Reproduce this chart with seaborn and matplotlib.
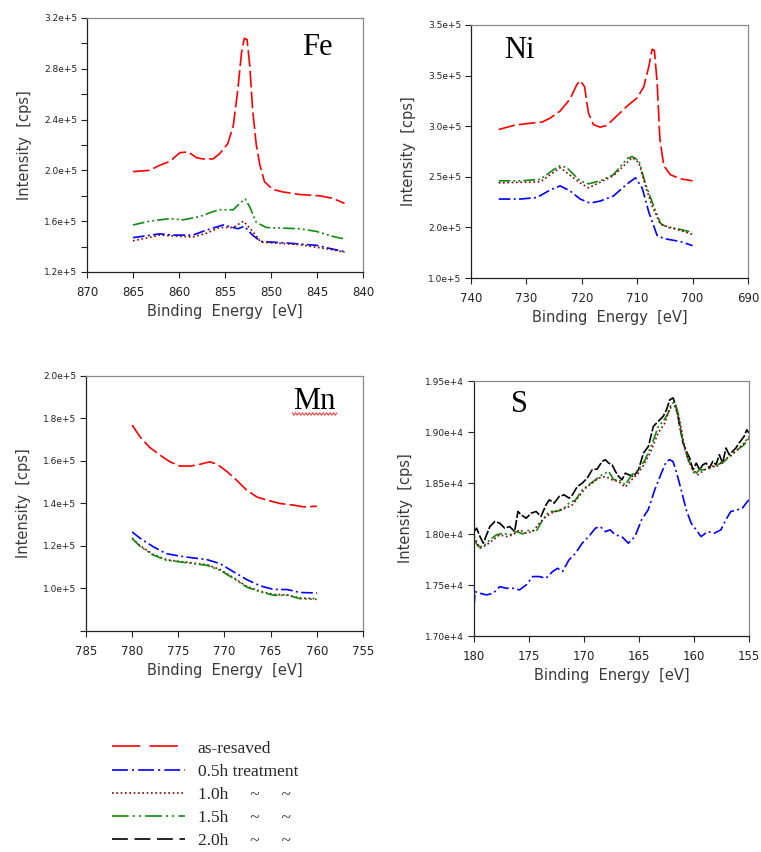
import matplotlib.pyplot as plt
import numpy as np
import pandas as pd
import seaborn as sns
from matplotlib.lines import Line2D

# ---------------- Fe ----------------
fe_red_ev = [865.0, 863.2, 862.1, 861.0, 859.9, 859.0, 858.1, 857.4, 856.3, 855.6, 854.7, 854.1, 853.6,
             853.2, 852.9, 852.6, 852.3, 852.0, 851.6, 851.2, 850.7, 849.8, 848.7, 846.9, 844.7, 843.3, 842.0]
fe_red = [199000, 200000, 204000, 207000, 214000, 214500, 210000, 209000, 209000, 213000, 221000, 235000, 264000,
          293000, 304000, 303000, 282000, 248000, 220000, 204000, 191000, 185000, 183000, 181000, 180000, 178000, 174000]
fe_green_ev = [865.0, 863.2, 861.0, 859.6, 857.8, 856.3, 855.6, 854.1, 853.4, 852.8, 852.3, 851.6, 850.5,
               848.7, 846.9, 845.1, 843.3, 842.0]
fe_green = [157000, 160000, 162000, 161000, 163500, 167500, 169000, 169000, 174000, 177500, 171000, 159000, 155000,
            154500, 154000, 152000, 148000, 146000]
fe_blue_ev = [865.0, 862.1, 860.7, 858.5, 857.0, 855.2, 854.1, 853.6, 852.9, 852.0, 851.1, 848.7, 846.9,
              845.1, 843.3, 842.0]
fe_blue = [147000, 150000, 149000, 149000, 153000, 157000, 155000, 154000, 156000, 149000, 144000, 143000, 142000,
           141000, 138000, 136000]
fe_dot_ev = [865.0, 862.1, 858.5, 857.0, 855.6, 854.1, 853.0, 852.0, 851.1, 846.9, 843.3, 842.0]
fe_dot = [144500, 149000, 147500, 150500, 155000, 155000, 160000, 152000, 143500, 141500, 137500, 135500]

# ---------------- Ni ----------------
ni_red_ev = [735.0, 732.3, 729.9, 727.2, 725.7, 723.9, 722.1, 720.9, 720.3, 719.5, 718.8, 717.9, 716.7, 715.5,
             713.7, 711.8, 710.0, 708.8, 707.9, 707.3, 706.9, 706.4, 705.9, 705.2, 704.0, 702.2, 700.0]
ni_red = [296700, 300700, 302600, 304000, 308000, 315000, 327000, 341000, 345000, 339000, 313000, 301600, 299000,
          300700, 310000, 320000, 328000, 339000, 359000, 376000, 375000, 343000, 287000, 261000, 252000, 248000,
          246000]
ni_green_ev = [735.0, 731.1, 727.5, 725.1, 723.9, 722.7, 720.3, 718.8, 716.7, 714.3, 711.8, 710.9, 709.7, 708.5,
               707.3, 705.8, 704.6, 702.2, 700.0]
ni_green = [246000, 246000, 247500, 257000, 261000, 259000, 246000, 243000, 246000, 252000, 268000, 270000, 266000,
            243000, 225000, 204000, 200000, 198000, 195000]
ni_dot_ev = [735.0, 727.5, 723.9, 720.3, 718.8, 714.3, 710.9, 709.7, 708.5, 707.3, 705.8, 702.2, 700.0]
ni_dot = [244000, 245000, 259000, 244000, 239000, 251000, 269000, 264000, 241000, 221000, 203000, 197000, 193000]
ni_blue_ev = [735.0, 731.1, 728.1, 725.7, 723.9, 722.1, 720.3, 718.5, 716.7, 714.3, 711.8, 710.3, 709.1, 707.9,
              706.4, 705.2, 702.2, 700.0]
ni_blue = [228000, 228000, 229500, 237000, 241000, 236000, 228000, 224000, 226000, 231000, 243000, 249000, 239000,
           215000, 192000, 189000, 186000, 182000]

# ---------------- Mn ----------------
mn_red_ev = [780.0, 779.1, 778.1, 777.0, 775.9, 774.8, 773.7, 772.6, 771.6, 770.8, 769.7, 768.7, 767.6, 766.5,
             765.4, 764.0, 762.5, 761.4, 760.0]
mn_red = [176900, 171100, 166400, 162800, 159600, 157600, 157600, 158500, 159600, 158500, 154900, 151000, 146300,
          143100, 141600, 140000, 139200, 138400, 138700]
mn_ev = [780.0, 779.1, 777.7, 776.3, 774.8, 773.4, 771.9, 770.5, 769.0, 767.6, 766.1, 764.7, 763.2, 761.8, 760.0]
mn_blue = [126600, 123500, 119600, 116400, 115200, 114400, 113600, 111700, 107800, 104200, 101200, 99600, 99500,
           98100, 97900]
mn_green = [123500, 119600, 115700, 113300, 112500, 111700, 110900, 108600, 104700, 100700, 98400, 96800, 96800,
            95200, 94900]
mn_dot = [123800, 120000, 116000, 113600, 112700, 112000, 111200, 109000, 105000, 101000, 98700, 97200, 97000,
          95500, 95200]

# ---------------- S ----------------
s_black_ev = [180.00, 179.76, 179.46, 179.16, 178.86, 178.56, 178.11, 177.66, 177.21, 176.76, 176.31, 176.01,
              175.71, 175.26, 174.81, 174.36, 173.91, 173.46, 173.16, 172.71, 172.26, 171.81, 171.36, 171.06,
              170.61, 170.16, 169.71, 169.26, 168.81, 168.36, 168.06, 167.76, 167.45, 167.15, 166.85, 166.55,
              166.25, 165.95, 165.50, 165.05, 164.60, 164.15, 163.70, 163.25, 162.80, 162.50, 162.20, 161.90,
              161.60, 161.30, 161.00, 160.70, 160.40, 160.10, 159.80, 159.50, 159.20, 158.90, 158.60, 158.30,
              158.00, 157.70, 157.40, 157.10, 156.80, 156.50, 156.20, 155.90, 155.45, 155.21, 155.00]
s_black = [18024, 18057, 17975, 17910, 17992, 18073, 18123, 18106, 18057, 18073, 18024, 18221, 18188, 18155,
           18204, 18221, 18172, 18286, 18335, 18303, 18368, 18384, 18352, 18384, 18466, 18499, 18548, 18630,
           18636, 18712, 18728, 18695, 18679, 18614, 18564, 18532, 18597, 18581, 18564, 18630, 18794, 18859,
           19055, 19105, 19154, 19219, 19317, 19334, 19235, 19055, 18892, 18810, 18745, 18630, 18695, 18630,
           18679, 18695, 18646, 18712, 18679, 18777, 18695, 18843, 18777, 18810, 18843, 18892, 18957, 19022, 18990]
s_green_ev = [180.00, 179.61, 179.16, 178.56, 177.96, 177.36, 176.76, 176.16, 175.56, 174.96, 174.36, 173.76,
              173.16, 172.56, 171.96, 171.36, 170.76, 170.16, 169.56, 168.96, 168.36, 167.76, 167.31, 166.85,
              166.25, 165.65, 165.05, 164.45, 163.85, 163.25, 162.80, 162.35, 162.05, 161.75, 161.45, 161.15,
              160.85, 160.40, 159.95, 159.50, 159.05, 158.45, 157.85, 157.25, 156.65, 156.05, 155.45, 155.00]
s_green = [17943, 17877, 17877, 17943, 17992, 18008, 17992, 18024, 18001, 18041, 18024, 18139, 18221, 18221,
           18237, 18303, 18335, 18434, 18483, 18532, 18581, 18614, 18532, 18532, 18483, 18581, 18630, 18728,
           18875, 19055, 19105, 19186, 19285, 19285, 19186, 18990, 18826, 18695, 18581, 18630, 18630, 18646,
           18679, 18712, 18777, 18826, 18875, 18941]
s_dot_ev = [180.00, 179.46, 178.86, 178.26, 177.66, 177.06, 176.46, 175.86, 175.26, 174.66, 174.06, 173.46,
            172.86, 172.26, 171.66, 171.07, 170.47, 169.87, 169.27, 168.67, 168.07, 167.47, 166.87, 166.27,
            165.67, 165.07, 164.47, 163.87, 163.27, 162.65, 162.20, 161.75, 161.30, 161.00, 160.55, 160.10,
            159.65, 159.05, 158.45, 157.85, 157.25, 156.65, 156.05, 155.45, 155.00]
s_dot = [17975, 17861, 17894, 17943, 17992, 17975, 17992, 18041, 18008, 18024, 18106, 18172, 18211, 18237,
         18254, 18286, 18368, 18450, 18499, 18548, 18564, 18532, 18515, 18460, 18532, 18597, 18695, 18826,
         18990, 19088, 19235, 19252, 19121, 18924, 18728, 18630, 18581, 18630, 18663, 18669, 18728, 18767,
         18826, 18892, 18957]
s_blue_ev = [180.00, 179.91, 179.46, 178.86, 178.26, 177.66, 177.06, 176.46, 175.86, 175.26, 174.66, 174.06,
             173.46, 172.86, 172.41, 171.96, 171.37, 170.77, 170.17, 169.57, 168.97, 168.52, 168.07, 167.62,
             167.17, 166.57, 165.97, 165.37, 164.77, 164.17, 163.57, 162.97, 162.52, 162.22, 161.92, 161.62,
             161.17, 160.71, 160.26, 159.81, 159.36, 158.76, 158.16, 157.56, 157.11, 156.66, 156.06, 155.61,
             155.15, 155.00]
s_blue = [17288, 17435, 17419, 17403, 17419, 17484, 17468, 17468, 17452, 17501, 17583, 17583, 17566, 17632,
          17664, 17632, 17746, 17812, 17910, 17975, 18057, 18073, 18024, 18041, 17992, 17975, 17910, 17975,
          18139, 18237, 18434, 18597, 18712, 18728, 18712, 18614, 18434, 18237, 18106, 18041, 17975, 18024,
          18008, 18041, 18139, 18221, 18237, 18254, 18319, 18335]

# tick labels as printed on the original
fe_yticks = [120000, 160000, 200000, 240000, 280000, 320000]
fe_ylabels = ["1.2e+5", "1.6e+5", "2.0e+5", "2.4e+5", "2.8e+5", "3.2e+5"]
ni_yticks = [150000, 200000, 250000, 300000, 350000, 400000]
ni_ylabels = ["1.0e+5", "2.0e+5", "2.5e+5", "3.0e+5", "3.5e+5", "3.5e+5"]
mn_yticks = [80000, 100000, 120000, 140000, 160000, 180000, 200000]
mn_ylabels = ["", "1.0e+5", "1.2e+5", "1.4e+5", "1.6e+5", "1.8e+5", "2.0e+5"]
s_yticks = [17000, 17500, 18000, 18500, 19000, 19500]
s_ylabels = ["1.70e+4", "1.75e+4", "1.80e+4", "1.85e+4", "1.90e+4", "1.95e+4"]

legend_labels = ["as-resaved", "0.5h treatment", "1.0h     ~     ~", "1.5h     ~     ~", "2.0h     ~     ~"]

# style per sample: colour, dashes in the plots, dashes in the legend
styles = {
    "asres": ("#ff0000", (10, 2.5), (17, 5.5)),
    "h05": ("#0000ff", (7, 2, 1.2, 2), (9.5, 2.5, 1.2, 2.5)),
    "h10": ("#8b0000", (1, 1.6), (1, 1.6)),
    "h15": ("#118a11", (7, 1.8, 1.2, 1.8, 1.2, 1.8), (10, 2.5, 1.2, 2.5, 1.2, 2.5)),
    "h20": ("#000000", (6, 1.2), (9.5, 4)),
}

sns.set_theme(style="white")
plt.rcParams["font.family"] = ["DejaVu Sans"]

fig = plt.figure(figsize=(7.61, 8.52), dpi=100)
ax_fe = fig.add_axes([0.1143, 0.6808, 0.3627, 0.2981])
ax_ni = fig.add_axes([0.6189, 0.6737, 0.3640, 0.2970])
ax_mn = fig.add_axes([0.1130, 0.2594, 0.3640, 0.2993])
ax_s = fig.add_axes([0.6229, 0.2535, 0.3614, 0.2993])


def draw(ax, ev, inten, key):
    color, dash, _ = styles[key]
    sns.lineplot(x=ev, y=inten, ax=ax, color=color, linewidth=1.2,
                 linestyle=(0, dash), sort=False, estimator=None)


def frame(ax, xlim, xticks, ylim, yticks, ylabels, title, tx, ty, yminor=None):
    ax.set_xlim(*xlim)
    ax.set_ylim(*ylim)
    ax.set_xticks(xticks)
    ax.set_xticklabels([str(t) for t in xticks])
    ax.set_yticks(yticks)
    ax.set_yticklabels(ylabels)
    if yminor is not None:
        ax.set_yticks(yminor, minor=True)
    ax.tick_params(axis="x", direction="out", length=4, width=0.8, pad=6, labelsize=8.5,
                   colors="#222222", bottom=True)
    ax.tick_params(axis="y", which="both", direction="out", length=4, width=0.8, pad=3,
                   labelsize=6.5, colors="#222222", left=True)
    for side in ["left", "bottom"]:
        ax.spines[side].set_color("#222222")
        ax.spines[side].set_linewidth(0.9)
    for side in ["top", "right"]:
        ax.spines[side].set_color("#8a8a8a")
        ax.spines[side].set_linewidth(0.9)
    ax.set_xlabel("Binding  Energy  [eV]", fontsize=10.5, color="#3a3a3a", labelpad=4)
    ax.set_ylabel("Intensity  [cps]", fontsize=10.5, color="#3a3a3a", labelpad=9)
    ax.text(tx, ty, title, transform=ax.transAxes, ha="center", va="center",
            fontsize=22, family="Liberation Serif", color="black")
    ax.grid(False)


draw(ax_fe, fe_red_ev, fe_red, "asres")
draw(ax_fe, fe_green_ev, fe_green, "h15")
draw(ax_fe, fe_blue_ev, fe_blue, "h05")
draw(ax_fe, fe_dot_ev, fe_dot, "h10")
frame(ax_fe, (870, 840), list(range(870, 839, -5)), (120000, 320000), fe_yticks, fe_ylabels,
      "Fe", 0.835, 0.885, yminor=[140000, 180000, 220000, 260000, 300000])

draw(ax_ni, ni_red_ev, ni_red, "asres")
draw(ax_ni, ni_green_ev, ni_green, "h15")
draw(ax_ni, ni_dot_ev, ni_dot, "h10")
draw(ax_ni, ni_blue_ev, ni_blue, "h05")
frame(ax_ni, (740, 690), list(range(740, 689, -10)), (150000, 400000), ni_yticks, ni_ylabels,
      "Ni", 0.173, 0.9)

draw(ax_mn, mn_red_ev, mn_red, "asres")
draw(ax_mn, mn_ev, mn_blue, "h05")
draw(ax_mn, mn_ev, mn_dot, "h10")
draw(ax_mn, mn_ev, mn_green, "h15")
frame(ax_mn, (785, 755), list(range(785, 754, -5)), (80000, 200000), mn_yticks, mn_ylabels,
      "Mn", 0.823, 0.898)
# red spell-check squiggle under "Mn"
zx = np.linspace(0.744, 0.906, 27)
zy = 0.851 + 0.005 * (-1) ** np.arange(27)
ax_mn.plot(zx, zy, transform=ax_mn.transAxes, color="#ff3030", linewidth=0.7, clip_on=False)

draw(ax_s, s_blue_ev, s_blue, "h05")
draw(ax_s, s_black_ev, s_black, "h20")
draw(ax_s, s_green_ev, s_green, "h15")
draw(ax_s, s_dot_ev, s_dot, "h10")
frame(ax_s, (180, 155), list(range(180, 154, -5)), (17000, 19500), s_yticks, s_ylabels,
      "S", 0.165, 0.906)

handles = []
for key in ["asres", "h05", "h10", "h15", "h20"]:
    color, _, ldash = styles[key]
    handles.append(Line2D([], [], color=color, linewidth=1.2, linestyle=(0, ldash)))
fig.legend(handles, legend_labels, loc="upper left", bbox_to_anchor=(0.147, 0.131),
           frameon=False, borderpad=0, borderaxespad=0, handlelength=4.2, handletextpad=0.75,
           labelspacing=0.40, prop={"family": "Liberation Serif", "size": 12.5})

fig.savefig("out.png", dpi=100)
